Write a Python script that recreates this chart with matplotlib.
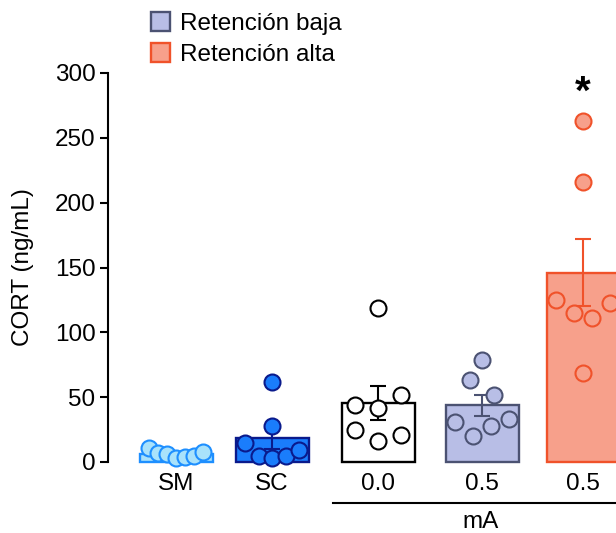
import numpy as np
import matplotlib
matplotlib.use("Agg")
from matplotlib import pyplot as plt
from matplotlib.patches import Patch

plt.rcParams['font.family'] = ['Liberation Sans', 'DejaVu Sans']

# ---- datos: CORT (ng/mL) por animal ----
groups = ["SM", "SC", "0.0", "0.5", "0.5"]
cort_sm = [11, 7, 6, 3, 4, 5, 8]
cort_sc = [62, 28, 15, 5, 3, 5, 9]
cort_00 = [119, 44, 42, 52, 25, 16, 21]
cort_05_baja = [79, 63, 52, 31, 20, 28, 33]
cort_05_alta = [263, 216, 125, 115, 111, 123, 69]
legend_labels = ["Retención baja", "Retención alta"]

fills = ['#a9e2fb', '#1a7dfc', '#ffffff', '#b8bee6', '#f7a08b']
edges = ['#1e8fff', '#0a1a8c', '#000000', '#4b5272', '#f0522a']
pos = np.array([0, 0.96, 2.02, 3.06, 4.07])


def swarm_offsets(vals, gap=11.6, max_step=0.23, max_span=0.54):
    # agrupa puntos que se solapan en y y los reparte centrados en x
    vals = np.asarray(vals, float)
    order = np.argsort(vals, kind='stable')
    clusters = [[order[0]]]
    for a, b in zip(order[:-1], order[1:]):
        if vals[b] - vals[a] < gap:
            clusters[-1].append(b)
        else:
            clusters.append([b])
    offs = np.zeros(len(vals))
    for c in clusters:
        c = sorted(c)
        n = len(c)
        if n > 1:
            step = min(max_step, max_span / (n - 1))
            for k, i in enumerate(c):
                offs[i] = (k - (n - 1) / 2) * step
    return offs


data = [cort_sm, cort_sc, cort_00, cort_05_baja, cort_05_alta]
means = [np.mean(d) for d in data]
sems = [np.std(d, ddof=1) / np.sqrt(len(d)) for d in data]

fig = plt.figure(figsize=(6.16, 5.33), dpi=100)
ax = fig.add_axes([108 / 616, 71 / 533, 508 / 616, 389 / 533])

width = 0.73
for i, d in enumerate(data):
    ax.bar(pos[i], means[i], width=width, color=fills[i], edgecolor=edges[i],
           linewidth=1.7, zorder=2, clip_on=False)
    ax.errorbar(pos[i], means[i], yerr=sems[i], color=edges[i], lw=1.5,
                capsize=6, capthick=1.5, zorder=3, clip_on=False)
    ax.plot(pos[i] + swarm_offsets(d), d, 'o', ms=11.5, mfc=fills[i],
            mec=edges[i], mew=1.5, zorder=4, clip_on=False)

# asterisco de significancia
ax.text(pos[4], 285, "*", ha='center', va='center', fontsize=29,
        fontweight='bold')

ax.set_xlim(-0.68, 4.40)
ax.set_ylim(0, 300)
ax.set_yticks(range(0, 301, 50))
ax.set_xticks(pos, groups)
for s in ['top', 'right', 'bottom']:
    ax.spines[s].set_visible(False)
ax.spines['left'].set_linewidth(1.5)
ax.spines['left'].set_bounds(0, 300)
ax.tick_params(axis='y', length=6, width=1.5, labelsize=17.5, pad=3)
ax.tick_params(axis='x', length=0, labelsize=17.5, pad=8)
ax.set_ylabel("CORT (ng/mL)", fontsize=17.5)
ax.yaxis.set_label_coords(-0.146, 0.5)

# linea de agrupacion para la intensidad (mA)
x0 = pos[2] - width / 2 - 0.09
ax.plot([x0, 4.40], [-31.5, -31.5], color='black', lw=1.5, clip_on=False)
ax.text(np.mean(pos[2:]), -46, "mA", ha='center', va='center', fontsize=17.5)

handles = [Patch(facecolor=fills[3], edgecolor=edges[3], linewidth=1.7),
           Patch(facecolor=fills[4], edgecolor=edges[4], linewidth=1.7)]
fig.legend(handles, legend_labels, loc='upper left',
           bbox_to_anchor=(151 / 616, 1 - 12 / 533), frameon=False,
           fontsize=17.5, handlelength=0.8, handleheight=0.8,
           handletextpad=0.4, labelspacing=0.35, borderpad=0,
           borderaxespad=0)

fig.savefig("out.png", dpi=100)
